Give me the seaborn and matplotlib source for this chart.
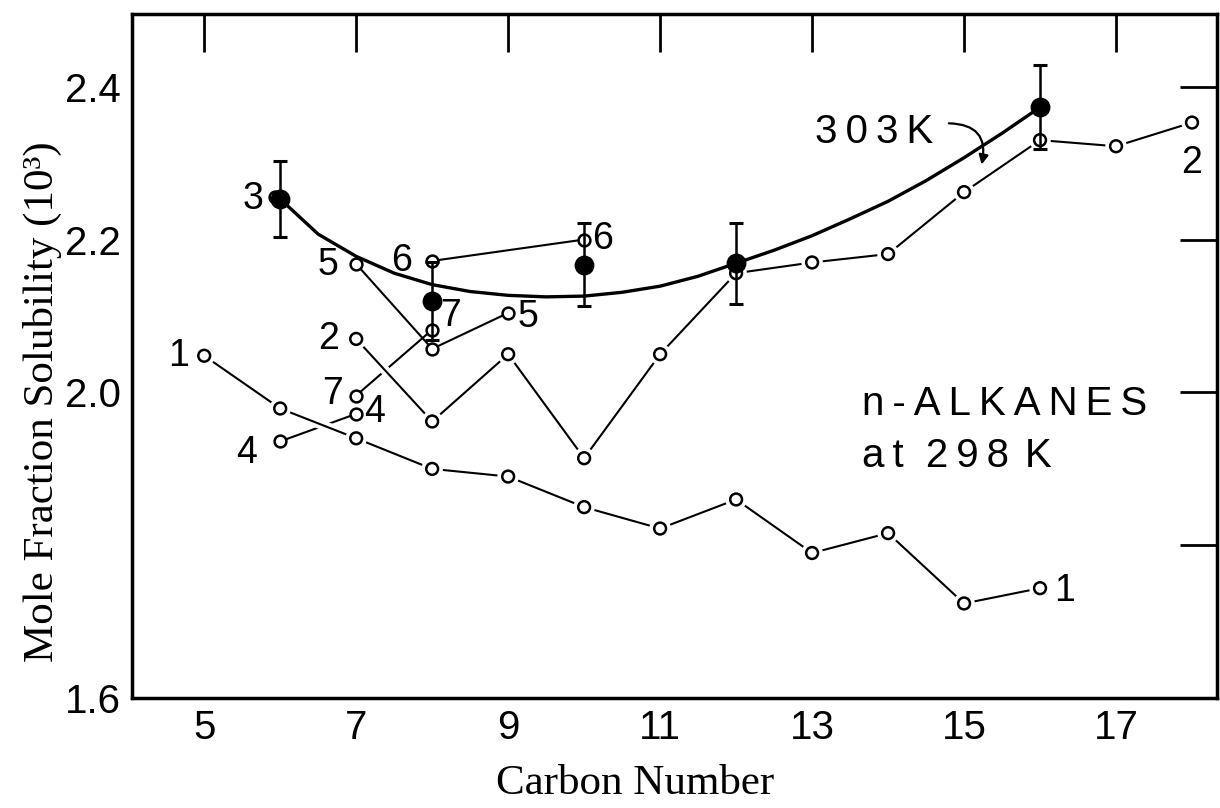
import matplotlib
matplotlib.use("Agg")
import matplotlib.pyplot as plt
import matplotlib.patheffects as pe
import seaborn as sns

# ---------------- data ----------------
carbon_1 = [5, 6, 7, 8, 9, 10, 11, 12, 13, 14, 15, 16]
solub_1 = [2.048, 1.979, 1.940, 1.900, 1.890, 1.850, 1.822, 1.860, 1.790, 1.816, 1.724, 1.744]

carbon_2 = [7, 8, 9, 10, 11, 12, 13, 14, 15, 16, 17, 18]
solub_2 = [2.070, 1.962, 2.050, 1.914, 2.050, 2.156, 2.170, 2.181, 2.262, 2.330, 2.322, 2.353]

carbon_3 = [5.93]
solub_3 = [2.256]

carbon_4 = [6, 7]
solub_4 = [1.936, 1.972]

carbon_5 = [7, 8, 9]
solub_5 = [2.168, 2.057, 2.104]

carbon_6 = [8, 10]
solub_6 = [2.172, 2.200]

carbon_7 = [7, 8]
solub_7 = [1.996, 2.082]

carbon_303 = [6, 8, 10, 12, 16]
solub_303 = [2.253, 2.120, 2.167, 2.169, 2.373]
err_303 = [0.050, 0.051, 0.054, 0.053, 0.055]

curve_x = [6, 6.5, 7, 7.5, 8, 8.5, 9, 9.5, 10, 10.5, 11, 11.5, 12, 12.5,
           13, 13.5, 14, 14.5, 15, 15.5, 16]
curve_y = [2.253, 2.207, 2.178, 2.156, 2.141, 2.132, 2.127, 2.125, 2.126,
           2.131, 2.139, 2.152, 2.169, 2.186, 2.205, 2.227, 2.250, 2.277,
           2.307, 2.339, 2.373]

x_ticks = [5, 7, 9, 11, 13, 15, 17]
x_tick_labels = ["5", "7", "9", "11", "13", "15", "17"]
y_ticks = [1.6, 1.8, 2.0, 2.2, 2.4]
y_tick_labels = ["1.6", "", "2.0", "2.2", "2.4"]

# ---------------- style ----------------
sns.set_style("white")
plt.rcParams["font.family"] = ["Liberation Sans", "DejaVu Sans"]
plt.rcParams["text.color"] = "black"
plt.rcParams["axes.labelcolor"] = "black"
plt.rcParams["xtick.color"] = "black"
plt.rcParams["ytick.color"] = "black"

fig = plt.figure(figsize=(12.2, 8.08), dpi=100)
ax = fig.add_axes([0.1084, 0.1358, 0.8889, 0.8469])

open_kw = dict(color="black", linewidth=1.5, marker="o", markersize=8.5,
               markerfacecolor="white", markeredgecolor="black",
               markeredgewidth=1.8, ax=ax)
halo = [pe.withStroke(linewidth=7, foreground="white")]

# lower layer (these get gaps where other lines cross)
sns.lineplot(x=carbon_4, y=solub_4, zorder=2, **open_kw)
sns.lineplot(x=carbon_7, y=solub_7, zorder=2, **open_kw)
# lines with white halo to create crossing gaps
sns.lineplot(x=carbon_1, y=solub_1, zorder=3, path_effects=halo, **open_kw)
sns.lineplot(x=carbon_2, y=solub_2, zorder=3, path_effects=halo, **open_kw)
# other series
sns.lineplot(x=carbon_3, y=solub_3, zorder=4, **open_kw)
sns.lineplot(x=carbon_5, y=solub_5, zorder=4, **open_kw)
sns.lineplot(x=carbon_6, y=solub_6, zorder=4, **open_kw)

# 303 K smooth curve
sns.lineplot(x=curve_x, y=curve_y, color="black", linewidth=2.4, zorder=5, ax=ax)
ax.errorbar(carbon_303, solub_303, yerr=err_303, fmt="none", ecolor="black",
            elinewidth=1.8, capsize=5, capthick=2.2, zorder=6)
sns.scatterplot(x=carbon_303, y=solub_303, color="black", edgecolor="black",
                s=175, zorder=7, ax=ax)

# series number labels
lab_fs = 27
series_labels = [
    ("1", 4.80, 2.035, "right"),
    ("1", 16.18, 1.727, "left"),
    ("2", 6.77, 2.057, "right"),
    ("2", 18.0, 2.287, "center"),
    ("3", 5.78, 2.240, "right"),
    ("4", 5.69, 1.908, "right"),
    ("4", 7.11, 1.961, "left"),
    ("5", 6.76, 2.153, "right"),
    ("5", 9.13, 2.085, "left"),
    ("6", 7.74, 2.159, "right"),
    ("6", 10.11, 2.188, "left"),
    ("7", 6.83, 1.985, "right"),
    ("7", 8.10, 2.087, "left"),
]
for txt, tx, ty, ha in series_labels:
    ax.text(tx, ty, txt, fontsize=lab_fs, ha=ha, va="baseline", zorder=8,
            color="black")

TS = "\u2009"  # thin space, to mimic the wide lettering of the original
ax.text(13.66, 1.970, TS.join("n-ALKANES"), fontsize=29, ha="left",
        va="baseline", color="black")
ax.text(13.66, 1.902, "a" + TS + "t  " + TS.join("298") + TS + TS + "K",
        fontsize=29, ha="left", va="baseline", color="black")

ax.text(13.04, 2.326, TS.join("303") + TS + "K", fontsize=29, ha="left",
        va="baseline", color="black")
ax.annotate("", xy=(15.23, 2.298), xytext=(14.80, 2.352),
            arrowprops=dict(arrowstyle="-|>", color="black", lw=1.6,
                            mutation_scale=14, shrinkA=0, shrinkB=0,
                            connectionstyle="arc3,rad=-0.6"))

# axes
ax.set_xlim(4.053, 18.325)
ax.set_ylim(1.6, 2.495)
ax.set_xticks(x_ticks)
ax.set_xticklabels(x_tick_labels)
ax.set_yticks(y_ticks)
ax.set_yticklabels(y_tick_labels)
ax.tick_params(direction="in", length=27, width=2, top=True, right=True,
               labelsize=29, pad=8, color="black", labelcolor="black")
for sp in ax.spines.values():
    sp.set_linewidth(2.5)
    sp.set_color("black")
    sp.set_visible(True)

ax.set_xlabel("Carbon Number", fontfamily="Liberation Serif", fontsize=31,
              color="black")
ax.set_ylabel("Mole Fraction Solubility (10³)", fontfamily="Liberation Serif",
              fontsize=31, color="black")
ax.xaxis.set_label_coords(0.4636, -0.097)
ax.yaxis.set_label_coords(-0.065, 0.433)
ax.grid(False)

fig.savefig("out.png", dpi=100, facecolor="white")
